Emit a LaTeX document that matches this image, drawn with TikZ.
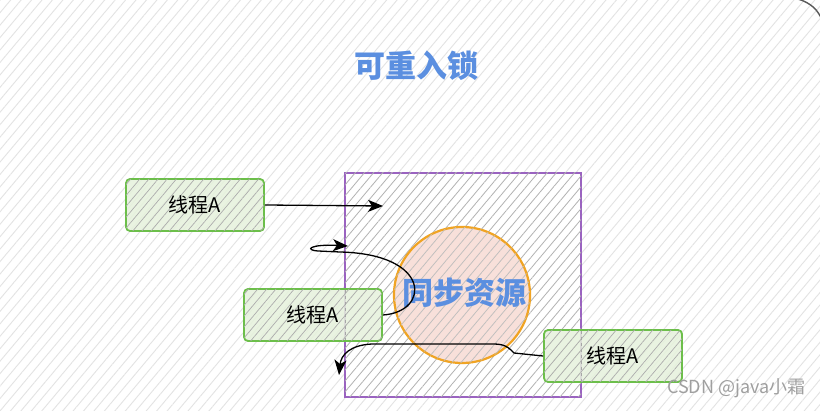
\documentclass[tikz,border=0pt]{standalone}
\usepackage{fontspec}
\setmainfont{Noto Sans CJK SC}
\newfontfamily\cjk{Noto Sans CJK SC}
\usetikzlibrary{patterns.meta,arrows.meta}
\definecolor{titleblue}{HTML}{5B8FE0}
\definecolor{boxgreen}{HTML}{6CBF4A}
\definecolor{boxfill}{HTML}{E6F2DC}
\definecolor{rectpurple}{HTML}{9A63C0}
\definecolor{circorange}{HTML}{F0A424}
\definecolor{circfill}{HTML}{F8DDD6}
\tikzset{
  thread/.style={draw=boxgreen, line width=1.8pt, rounded corners=4pt, minimum width=138pt, minimum height=52pt,
    fill=boxfill, fill opacity=0.85, text opacity=1, font=\cjk\fontsize{20}{20}\selectfont,
    postaction={pattern={Lines[angle=50,distance=7pt,line width=0.7pt]}, pattern color=gray!65}},
  conn/.style={draw=black, line width=1.3pt, -{Stealth[length=15pt,width=12pt,inset=4pt]}},
}
\begin{document}
\begin{tikzpicture}[x=1pt,y=-1pt]
\useasboundingbox (0,0) rectangle (820,411);
% background
\fill[white] (0,0) rectangle (820,411);
\fill[pattern={Lines[angle=50,distance=8pt,line width=0.9pt]}, pattern color=gray!22] (0,0) rectangle (820,411);
\draw[gray!70!black, line width=1.4pt] (798,-1) .. controls (811,3) and (818,10) .. (822,20);
% title
\node (title) at (416,66) {\cjk\fontsize{31}{31}\selectfont\bfseries\color{titleblue}可重入锁};
% purple rectangle
\node[draw=rectpurple, line width=1.3pt, minimum width=236pt, minimum height=224pt, inner sep=0,
  fill=white, postaction={pattern={Lines[angle=50,distance=7pt,line width=0.8pt]}, pattern color=gray!60}]
  (res) at (463,285) {};
% circle
\node[circle, draw=circorange, line width=2.2pt, minimum size=136pt, inner sep=0,
  fill=circfill, fill opacity=0.9,
  postaction={pattern={Lines[angle=50,distance=7pt,line width=0.7pt]}, pattern color=gray!50}]
  (sync) at (462,295) {};
\node (synctext) at (464,293) {\cjk\fontsize{31}{31}\selectfont\bfseries\color{titleblue}同步资源};
% threads
\node[thread] (a1) at (195,205) {线程A};
\node[thread] (a2) at (313,315) {线程A};
\node[thread] (a3) at (613,356) {线程A};
% dashed edges seen through the boxes
\draw[gray!70, dashed, line width=0.9pt] (345,290) -- (345,340);
\draw[gray!70, dashed, line width=0.9pt] (581,331) -- (581,382);
% connectors
\coordinate (e1) at (383,206);
\draw[conn] (a1.east) -- (e1);
\coordinate (e2) at (348,246);
\draw[conn] (a2.east) .. controls (430,312) and (432,254) .. (340,252)
  -- (318,251) .. controls (304,250) and (310,244) .. (e2);
\coordinate (e3) at (339,375);
\draw[conn] (a3.west) -- (514,353) .. controls (506,344) and (500,344) .. (490,344)
  -- (372,344) .. controls (350,345) and (341,355) .. (e3);
% watermark
\node[anchor=east, text=gray!75] (wm) at (809,388) {\cjk\fontsize{18}{18}\selectfont CSDN @java小霜};
\end{tikzpicture}
\end{document}
